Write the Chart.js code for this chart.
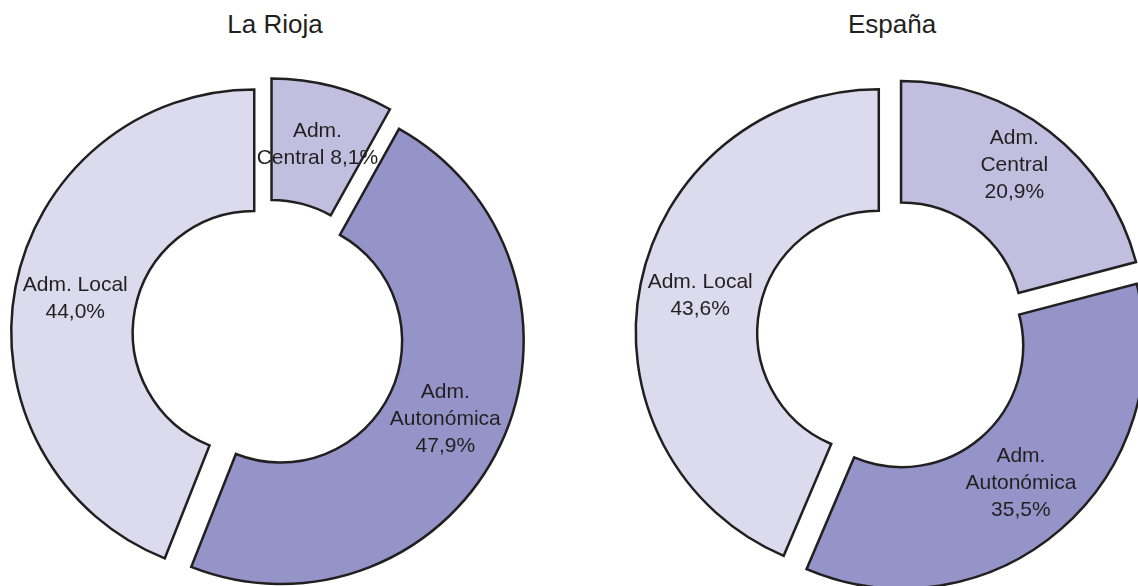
<!DOCTYPE html>
<html>
<head>
<meta charset="utf-8">
<script src="https://cdn.jsdelivr.net/npm/chart.js@4.4.0/dist/chart.umd.min.js"></script>
<style>
    html, body { margin: 0; padding: 0; background: #fff; overflow: hidden; }
    body { width: 1138px; height: 586px; position: relative; font-family: "Liberation Sans", Arial, sans-serif; }
    .titulo { position: absolute; top: 9px; font-size: 26px; line-height: 30px; color: #231f20; transform: translateX(-50%); white-space: nowrap; }
    canvas { position: absolute; top: 0; }
</style>
</head>
<body>
<div class="titulo" style="left:275px">La Rioja</div>
<div class="titulo" style="left:892px">España</div>
<canvas id="riojaChart" width="536" height="586" style="left:0"></canvas>
<canvas id="espanaChart" width="569" height="586" style="left:569px"></canvas>
<script>
// datos
var categorias = ['Adm. Central', 'Adm. Autonómica', 'Adm. Local'];
var valoresRioja = [8.1, 47.9, 44.0];
var valoresEspana = [20.9, 35.5, 43.6];
// cómo se parte cada rótulo en líneas ({v} = porcentaje)
var formatoRioja = ['Adm.\nCentral {v}', 'Adm.\nAutonómica\n{v}', 'Adm. Local\n{v}'];
var formatoEspana = ['Adm.\nCentral\n{v}', 'Adm.\nAutonómica\n{v}', 'Adm. Local\n{v}'];

var colores = ['#c1bedf', '#9594c9', '#dcdaed'];
var tinta = '#231f20';

function pct(v) {
    return v.toFixed(1).replace('.', ',') + '%';
}

// separa los sectores del centro (como el "explotar" de Excel)
var explotar = {
    id: 'explotar',
    afterDatasetsUpdate: function (chart, args, opts) {
        var d = opts.distancia || 0;
        chart.getDatasetMeta(0).data.forEach(function (arc) {
            var mid = (arc.startAngle + arc.endAngle) / 2;
            arc.x += Math.cos(mid) * d;
            arc.y += Math.sin(mid) * d;
        });
    }
};

// rótulos dentro de cada sector
var rotulos = {
    id: 'rotulos',
    afterDatasetsDraw: function (chart, args, opts) {
        var ctx = chart.ctx;
        var valores = chart.data.datasets[0].data;
        ctx.save();
        ctx.font = '21px "Liberation Sans", Arial, sans-serif';
        ctx.fillStyle = tinta;
        ctx.textAlign = 'center';
        ctx.textBaseline = 'middle';
        chart.getDatasetMeta(0).data.forEach(function (arc, i) {
            var mid = (arc.startAngle + arc.endAngle) / 2;
            var r = (arc.innerRadius + arc.outerRadius) / 2;
            var ajuste = (opts.ajustes && opts.ajustes[i]) || [0, 0];
            var x = arc.x + Math.cos(mid) * r + ajuste[0];
            var y = arc.y + Math.sin(mid) * r + ajuste[1];
            var lineas = opts.formato[i].replace('{v}', pct(valores[i])).split('\n');
            lineas.forEach(function (t, j) {
                ctx.fillText(t, x, y + (j - (lineas.length - 1) / 2) * 27);
            });
        });
        ctx.restore();
    }
};

function crearDona(id, valores, formato, padding, ajustes) {
    return new Chart(document.getElementById(id).getContext('2d'), {
        type: 'doughnut',
        data: {
            labels: categorias,
            datasets: [{
                data: valores,
                backgroundColor: colores,
                borderColor: tinta,
                borderWidth: 2.5,
                borderJoinStyle: 'miter'
            }]
        },
        options: {
            responsive: false,
            animation: false,
            events: [],
            radius: 243,
            cutout: '50%',
            layout: { padding: padding },
            plugins: {
                legend: { display: false },
                tooltip: { enabled: false },
                explotar: { distancia: 14 },
                rotulos: { formato: formato, ajustes: ajustes }
            }
        },
        plugins: [explotar, rotulos]
    });
}

crearDona('riojaChart', valoresRioja, formatoRioja, { top: 84, left: 0, right: 0, bottom: 0 });
crearDona('espanaChart', valoresEspana, formatoEspana, { top: 84, left: 78, right: 0, bottom: 0 }, [[2, -14], [0, 0], [0, 0]]);
</script>
</body>
</html>
